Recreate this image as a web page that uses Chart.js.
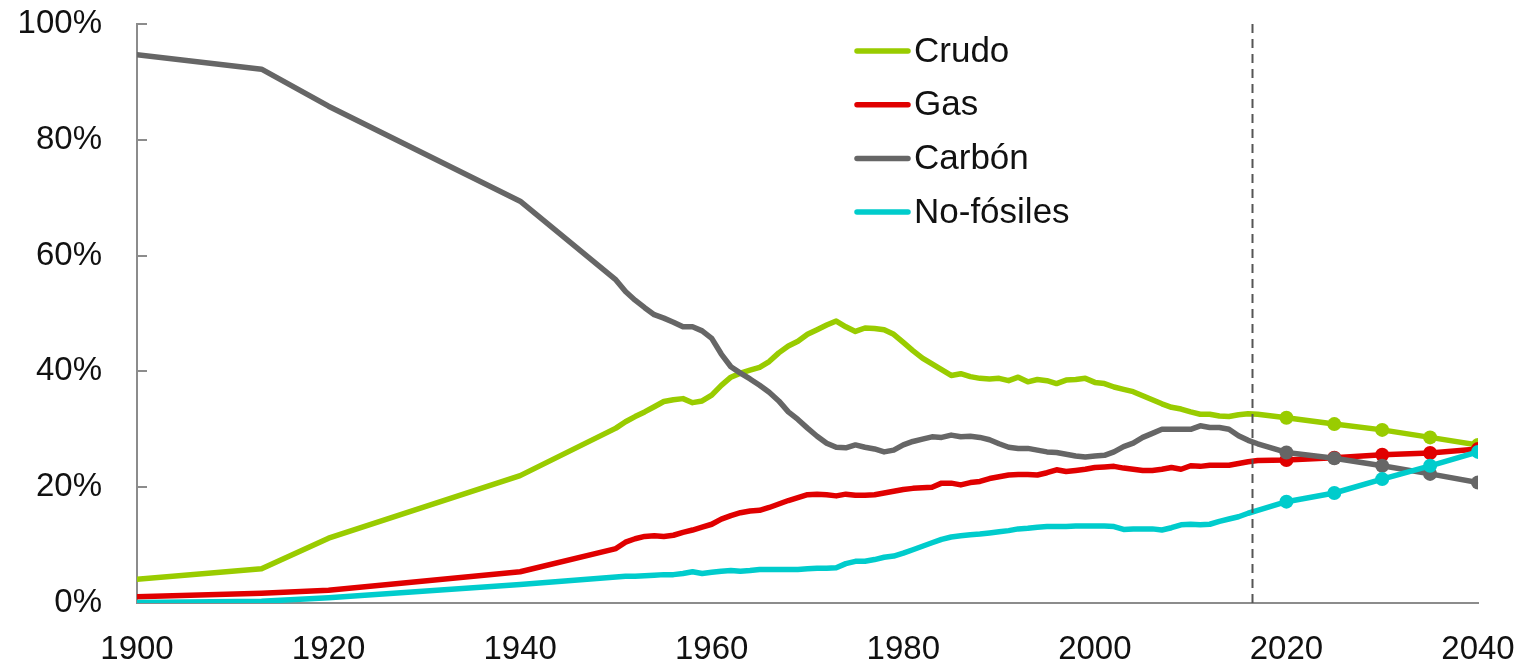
<!DOCTYPE html>
<html>
<head>
<meta charset="utf-8">
<script src="https://cdn.jsdelivr.net/npm/chart.js@4.4.0/dist/chart.umd.min.js"></script>
<style>
  body { margin: 0; background: #fff; }
  canvas { display: block; }
</style>
</head>
<body>
<canvas id="energyChart" width="1521" height="663"></canvas>
<script>
// years: a few early benchmarks, yearly history 1950-2017, then 5-yearly projections
const years = [1900, 1913, 1920, 1940,
    1950, 1951, 1952, 1953, 1954, 1955, 1956, 1957, 1958, 1959,
    1960, 1961, 1962, 1963, 1964, 1965, 1966, 1967, 1968, 1969,
    1970, 1971, 1972, 1973, 1974, 1975, 1976, 1977, 1978, 1979,
    1980, 1981, 1982, 1983, 1984, 1985, 1986, 1987, 1988, 1989,
    1990, 1991, 1992, 1993, 1994, 1995, 1996, 1997, 1998, 1999,
    2000, 2001, 2002, 2003, 2004, 2005, 2006, 2007, 2008, 2009,
    2010, 2011, 2012, 2013, 2014, 2015, 2016, 2017,
    2020, 2025, 2030, 2035, 2040];

const crudo = [4.1, 5.9, 11.2, 22.0,
    30.2, 31.3, 32.2, 33.0, 33.9, 34.8, 35.1, 35.3, 34.6, 34.9,
    35.9, 37.6, 39.0, 39.7, 40.2, 40.7, 41.7, 43.2, 44.4, 45.2,
    46.4, 47.2, 48.0, 48.7, 47.7, 46.9, 47.5, 47.4, 47.2, 46.4,
    45.0, 43.6, 42.3, 41.3, 40.3, 39.3, 39.6, 39.1, 38.8, 38.7,
    38.8, 38.4, 39.0, 38.2, 38.6, 38.4, 37.9, 38.5, 38.6, 38.8,
    38.1, 37.9, 37.3, 36.9, 36.5, 35.8, 35.1, 34.4, 33.8, 33.5,
    33.0, 32.6, 32.6, 32.3, 32.2, 32.5, 32.7, 32.6,
    32.0, 30.9, 29.9, 28.6, 27.3];

const gas = [1.1, 1.7, 2.2, 5.4,
    9.4, 10.5, 11.1, 11.5, 11.6, 11.5, 11.7, 12.2, 12.6, 13.1,
    13.6, 14.5, 15.1, 15.6, 15.9, 16.0, 16.5, 17.1, 17.7, 18.2,
    18.7, 18.8, 18.7, 18.5, 18.8, 18.6, 18.6, 18.7, 19.0, 19.3,
    19.6, 19.8, 19.9, 20.0, 20.7, 20.7, 20.4, 20.8, 21.0, 21.5,
    21.8, 22.1, 22.2, 22.2, 22.1, 22.5, 23.0, 22.7, 22.9, 23.1,
    23.4, 23.5, 23.6, 23.3, 23.1, 22.9, 22.9, 23.1, 23.4, 23.1,
    23.7, 23.6, 23.8, 23.8, 23.8, 24.1, 24.4, 24.6,
    24.7, 25.1, 25.6, 25.9, 26.6];

const carbon = [94.7, 92.2, 85.8, 69.4,
    55.8, 53.8, 52.3, 51.0, 49.8, 49.2, 48.5, 47.7, 47.7, 47.0,
    45.7, 43.0, 40.8, 39.7, 38.7, 37.6, 36.4, 34.9, 33.0, 31.7,
    30.2, 28.8, 27.6, 26.9, 26.8, 27.3, 26.9, 26.6, 26.1, 26.4,
    27.3, 27.9, 28.3, 28.7, 28.6, 29.0, 28.7, 28.8, 28.6, 28.2,
    27.5, 26.9, 26.7, 26.7, 26.4, 26.1, 26.0, 25.7, 25.4, 25.2,
    25.4, 25.5, 26.1, 27.0, 27.6, 28.6, 29.3, 30.0, 30.0, 30.0,
    30.0, 30.6, 30.3, 30.3, 30.0, 28.9, 28.1, 27.5,
    26.0, 25.0, 23.7, 22.3, 20.8];

const noFosiles = [0.1, 0.3, 0.9, 3.2,
    4.5, 4.6, 4.6, 4.7, 4.8, 4.9, 4.9, 5.1, 5.4, 5.1,
    5.3, 5.5, 5.6, 5.5, 5.6, 5.8, 5.8, 5.8, 5.8, 5.8,
    5.9, 6.0, 6.0, 6.1, 6.8, 7.2, 7.2, 7.5, 7.9, 8.1,
    8.6, 9.2, 9.8, 10.4, 11.0, 11.4, 11.6, 11.8, 11.9, 12.1,
    12.3, 12.5, 12.8, 12.9, 13.1, 13.2, 13.2, 13.2, 13.3, 13.3,
    13.3, 13.3, 13.2, 12.7, 12.8, 12.8, 12.8, 12.6, 13.0, 13.5,
    13.6, 13.5, 13.6, 14.1, 14.5, 14.9, 15.5, 16.0,
    17.5, 19.0, 21.4, 23.7, 26.1];

const seriesNames = ['Crudo', 'Gas', 'Carbón', 'No-fósiles'];
const seriesColors = ['#99cc00', '#e00000', '#666666', '#00cccc'];
const xTicks = [1900, 1920, 1940, 1960, 1980, 2000, 2020, 2040];
const yTicks = [0, 20, 40, 60, 80, 100];
const projectionStart = 2020;
const cutoffYear = 2016.4;

const FONT = '"Liberation Sans", Arial, sans-serif';

function toPoints(values) {
    return values.map(function(v, i) { return { x: years[i], y: v }; });
}

function makeDataset(i, values, order) {
    return {
        label: seriesNames[i],
        data: toPoints(values),
        borderColor: seriesColors[i],
        backgroundColor: seriesColors[i],
        borderWidth: 5.5,
        borderCapStyle: 'round',
        borderJoinStyle: 'round',
        tension: 0,
        order: order,
        pointRadius: function(ctx) {
            return years[ctx.dataIndex] >= projectionStart ? 7 : 0;
        },
        pointBorderWidth: 0,
        pointHoverRadius: 0
    };
}

// dashed line marking the end of historical data
const cutoffLine = {
    id: 'cutoffLine',
    afterDatasetsDraw(chart) {
        const ctx = chart.ctx;
        const x = Math.round(chart.scales.x.getPixelForValue(cutoffYear)) + 0.5;
        ctx.save();
        ctx.strokeStyle = '#555555';
        ctx.lineWidth = 2;
        ctx.setLineDash([9, 6]);
        ctx.beginPath();
        ctx.moveTo(x, chart.chartArea.top);
        ctx.lineTo(x, chart.chartArea.bottom);
        ctx.stroke();
        ctx.restore();
    }
};

// legend drawn inside the plot, lines only
const insideLegend = {
    id: 'insideLegend',
    afterDraw(chart) {
        const ctx = chart.ctx;
        ctx.save();
        ctx.font = '35px ' + FONT;
        ctx.textBaseline = 'middle';
        ctx.fillStyle = '#111111';
        ctx.lineWidth = 5.5;
        ctx.lineCap = 'round';
        seriesNames.forEach(function(name, i) {
            const y = 51 + i * 53.7;
            ctx.strokeStyle = seriesColors[i];
            ctx.beginPath();
            ctx.moveTo(857, y);
            ctx.lineTo(908, y);
            ctx.stroke();
            ctx.fillText(name, 914, y + 1);
        });
        ctx.restore();
    }
};

new Chart(document.getElementById('energyChart').getContext('2d'), {
    type: 'line',
    data: {
        datasets: [
            makeDataset(0, crudo, 3),
            makeDataset(1, gas, 2),
            makeDataset(2, carbon, 1),
            makeDataset(3, noFosiles, 0)
        ]
    },
    options: {
        responsive: false,
        animation: false,
        devicePixelRatio: 1,
        layout: { padding: { top: 24, right: 43, bottom: 0, left: 0 } },
        plugins: {
            legend: { display: false },
            tooltip: { enabled: false }
        },
        scales: {
            x: {
                type: 'linear',
                min: 1900,
                max: 2040,
                afterBuildTicks: function(scale) {
                    scale.ticks = xTicks.map(function(v) { return { value: v }; });
                },
                afterFit: function(scale) {
                    scale.height = 60;
                    scale.paddingLeft = 0;
                    scale.paddingRight = 0;
                },
                grid: { display: false, drawTicks: false },
                border: { display: true, color: '#8c8c8c', width: 2 },
                ticks: {
                    padding: 27,
                    maxRotation: 0,
                    color: '#111111',
                    font: { family: FONT, size: 33 },
                    callback: function(value) { return String(value); }
                }
            },
            y: {
                min: 0,
                max: 100,
                afterBuildTicks: function(scale) {
                    scale.ticks = yTicks.map(function(v) { return { value: v }; });
                },
                afterFit: function(scale) {
                    scale.width = 137;
                    scale.paddingTop = 0;
                    scale.paddingBottom = 0;
                },
                grid: {
                    drawOnChartArea: false,
                    drawTicks: true,
                    tickLength: -10,
                    color: '#8c8c8c',
                    lineWidth: 2
                },
                border: { display: true, color: '#8c8c8c', width: 2 },
                ticks: {
                    padding: 45,
                    color: '#111111',
                    font: { family: FONT, size: 33 },
                    callback: function(value) { return value + '%'; }
                }
            }
        }
    },
    plugins: [cutoffLine, insideLegend]
});
</script>
</body>
</html>
